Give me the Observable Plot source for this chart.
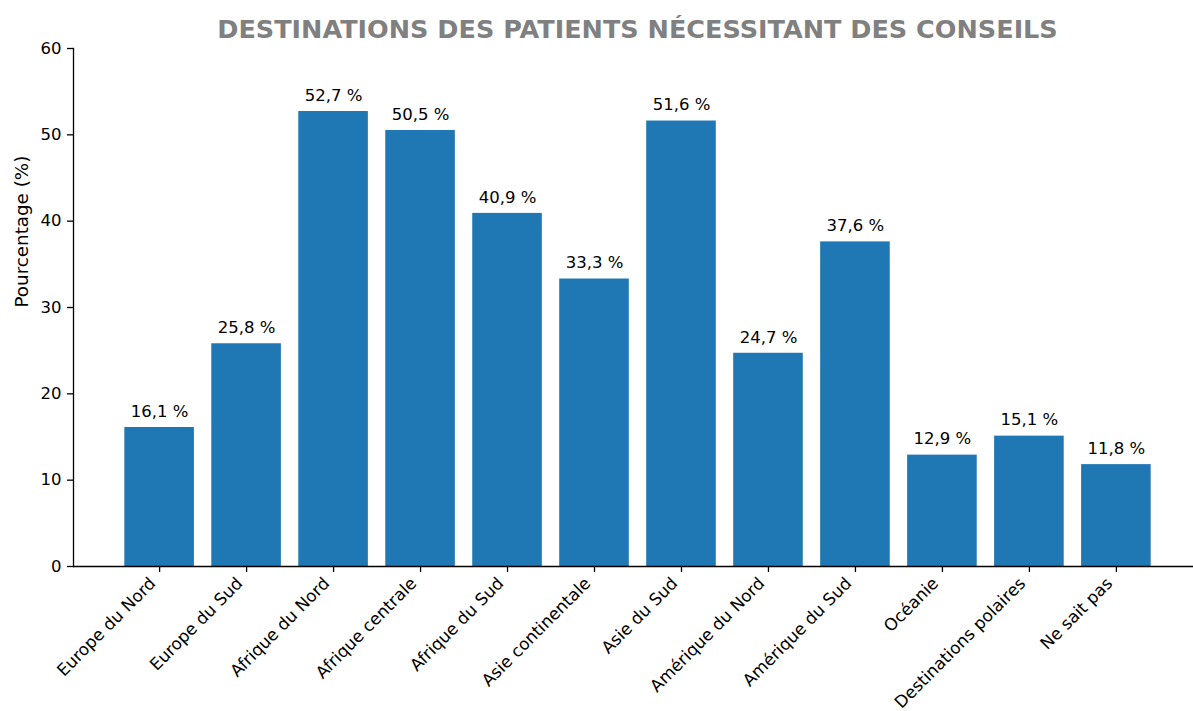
<!DOCTYPE html>
<html>
<head>
<meta charset="utf-8">
<script src="https://cdn.jsdelivr.net/npm/d3@7"></script>
<script src="https://cdn.jsdelivr.net/npm/@observablehq/plot@0.6"></script>
<style>
  html, body { margin: 0; padding: 0; background: white; overflow: hidden; }
  #wrap { width: 1193px; height: 711px; position: relative; }
  #title { margin-top: 9px; height: 31px; line-height: 40px; margin-left: 73px; width: 1129px;
           text-align: center; font-family: "DejaVu Sans", sans-serif; font-weight: bold;
           font-size: 25.5px; color: #808080; white-space: nowrap; }
</style>
</head>
<body>
<div id="wrap">
  <div id="title">DESTINATIONS DES PATIENTS NÉCESSITANT DES CONSEILS</div>
  <div id="chart"></div>
</div>
<script>
const categories = ["Europe du Nord", "Europe du Sud", "Afrique du Nord", "Afrique centrale", "Afrique du Sud", "Asie continentale", "Asie du Sud", "Amérique du Nord", "Amérique du Sud", "Océanie", "Destinations polaires", "Ne sait pas"];
const values = [16.1, 25.8, 52.7, 50.5, 40.9, 33.3, 51.6, 24.7, 37.6, 12.9, 15.1, 11.8];
const yTicks = [0, 10, 20, 30, 40, 50, 60];
const yLabel = "Pourcentage (%)";

const data = categories.map((c, i) => ({
  cat: c,
  value: values[i],
  label: values[i].toFixed(1).replace(".", ",") + " %"
}));

const chart = Plot.plot({
  width: 1193,
  height: 671,
  marginTop: 8,
  marginBottom: 145,
  marginLeft: 73,
  marginRight: 0,
  style: { fontFamily: "DejaVu Sans, sans-serif", fontSize: "16.5px", color: "#000", background: "white" },
  x: { type: "band", domain: categories, range: [73, 1202], paddingInner: 0.2, paddingOuter: 0.59, align: 0.5, round: false, axis: null },
  y: { domain: [0, 60], axis: null },
  marks: [
    Plot.barY(data, { x: "cat", y: "value", fill: "#1f77b4" }),
    Plot.ruleY([0], { stroke: "#000", strokeWidth: 1.3 }),
    Plot.frame({ anchor: "left", stroke: "#000", strokeWidth: 1.3 }),
    Plot.axisY({ ticks: yTicks, tickSize: 6, tickPadding: 6, label: null, tickFormat: d => String(d), strokeWidth: 1.3, fontSize: 16.5 }),
    Plot.axisX({ tickSize: 6, tickFormat: () => "", label: null, strokeWidth: 1.3 }),
    Plot.text(data, { x: "cat", frameAnchor: "bottom", text: "cat", rotate: -45, textAnchor: "end", dx: -3, dy: 18, fontSize: 16.8, fill: "#000" }),
    Plot.text(data, { x: "cat", y: "value", text: "label", dy: -16, fontSize: 16.5, fill: "#000" }),
    Plot.text([yLabel], { frameAnchor: "left", dx: -51, rotate: -90, fontSize: 18.3, fill: "#000" })
  ]
});
document.getElementById("chart").appendChild(chart);
</script>
</body>
</html>
